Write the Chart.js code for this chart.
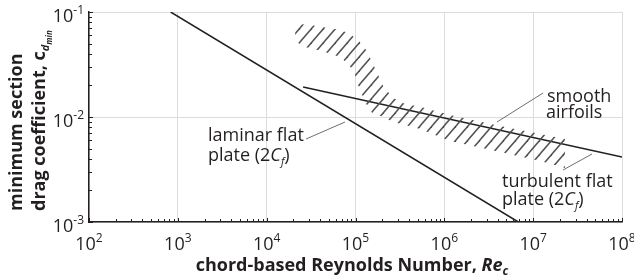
<!DOCTYPE html>
<html>
<head>
<meta charset="utf-8">
<script src="https://cdn.jsdelivr.net/npm/chart.js@4.4.0/dist/chart.umd.min.js"></script>
<style>
html, body { margin: 0; padding: 0; background: #fff; }
#grafico { display: block; }
</style>
</head>
<body>
<canvas id="grafico" width="634" height="279"></canvas>
<script>
// ticks dos eixos
const xTicks = [1e2, 1e3, 1e4, 1e5, 1e6, 1e7, 1e8]
const xExpoentes = ['2', '3', '4', '5', '6', '7', '8']
const yTicks = [1e-3, 1e-2, 1e-1]
const yExpoentes = ['-3', '-2', '-1']

// laminar flat plate (2Cf)
const laminarRe = [830, 6.8e6]
const laminarCd = [0.1, 0.001]

// turbulent flat plate (2Cf)
const turbulentoRe = [2.57e4, 1e8]
const turbulentoCd = [0.0193, 0.00416]

// faixa "smooth airfoils" (limite superior e inferior)
const faixaRe = [2.09e4, 2.71e4, 3.70e4, 4.91e4, 6.71e4, 8.26e4, 9.64e4, 1.07e5, 1.19e5, 1.32e5,
    1.54e5, 2.05e5, 2.65e5, 3.62e5, 5.34e5, 1.16e6, 4.25e6, 1.2e7, 2.29e7]
const faixaSup = [0.0769, 0.0760, 0.0736, 0.0705, 0.0674, 0.0631, 0.0578, 0.0541, 0.0485, 0.0435,
    0.0334, 0.0197, 0.0152, 0.0133, 0.0125, 0.01045, 0.0082, 0.00689, 0.00617]
const faixaInf = [0.0530, 0.0464, 0.0435, 0.0407, 0.0373, 0.0320, 0.0268, 0.0202, 0.0162, 0.0133,
    0.0109, 0.0100, 0.00896, 0.00839, 0.00769, 0.0059, 0.00465, 0.00381, 0.00327]

const COR = '#231f20'
const FONTE = '"Open Sans", "Noto Sans", sans-serif'

function pontos(xs, ys) {
    return xs.map((x, i) => ({ x: x, y: ys[i] }))
}

// hachura diagonal
function hachura() {
    const c = document.createElement('canvas')
    c.width = 12
    c.height = 14
    const g = c.getContext('2d')
    g.strokeStyle = '#505153'
    g.lineWidth = 1.5
    for (let k = -1; k <= 1; k++) {
        g.beginPath()
        g.moveTo(k * 12 - 1.2, 15.4)
        g.lineTo(k * 12 + 13.2, -1.4)
        g.stroke()
    }
    return g.createPattern(c, 'repeat')
}

function eMaior(v) {
    const l = Math.log10(v)
    return Math.abs(l - Math.round(l)) < 1e-6
}

function eInteiro(v) {
    const m = v / Math.pow(10, Math.floor(Math.log10(v) + 1e-9))
    return Math.abs(m - Math.round(m)) < 1e-6
}

function textoRico(ctx, partes, x, y) {
    let cx = x
    for (const p of partes) {
        ctx.font = p.fonte
        ctx.fillText(p.t, cx, y + (p.dy || 0))
        cx += ctx.measureText(p.t).width
    }
    return cx
}

function largura(ctx, partes) {
    let w = 0
    for (const p of partes) {
        ctx.font = p.fonte
        w += ctx.measureText(p.t).width
    }
    return w
}

function linha(ctx, x1, y1, x2, y2) {
    ctx.beginPath()
    ctx.moveTo(x1, y1)
    ctx.lineTo(x2, y2)
    ctx.stroke()
}

const reg = '18px ' + FONTE
const ita = 'italic 18px ' + FONTE
const sub = 'italic 11px ' + FONTE
const neg = 'bold 18px ' + FONTE
const negIta = 'italic bold 18px ' + FONTE

const textos = {
    id: 'textos',
    afterDraw(chart) {
        const ctx = chart.ctx
        const xs = chart.scales.x
        const ys = chart.scales.y
        const area = chart.chartArea
        ctx.save()
        ctx.fillStyle = COR
        ctx.strokeStyle = COR
        ctx.textBaseline = 'alphabetic'
        ctx.textAlign = 'left'

        // ticks para dentro
        ctx.lineWidth = 1
        xs.ticks.forEach(t => {
            if (!eInteiro(t.value)) return
            const px = Math.round(xs.getPixelForValue(t.value)) + 0.5
            const len = eMaior(t.value) ? 4 : 3
            linha(ctx, px, area.bottom, px, area.bottom - len)
        })
        ys.ticks.forEach(t => {
            if (!eInteiro(t.value)) return
            const py = Math.round(ys.getPixelForValue(t.value)) + 0.5
            const len = eMaior(t.value) ? 4 : 3
            linha(ctx, area.left, py, area.left + len, py)
        })

        // rotulos dos ticks
        xTicks.forEach((v, i) => {
            const partes = [{ t: '10', fonte: reg }, { t: xExpoentes[i], fonte: '12px ' + FONTE, dy: -8 }]
            const w = largura(ctx, partes)
            textoRico(ctx, partes, xs.getPixelForValue(v) - w / 2, 250)
        })
        yTicks.forEach((v, i) => {
            const partes = [{ t: '10', fonte: reg }, { t: yExpoentes[i], fonte: '12px ' + FONTE, dy: -8 }]
            const w = largura(ctx, partes)
            textoRico(ctx, partes, 84 - w, ys.getPixelForValue(v) + 9.5)
        })

        // titulo eixo x
        const tx = [
            { t: 'chord-based Reynolds Number, ', fonte: neg },
            { t: 'Re', fonte: negIta },
            { t: 'c', fonte: 'italic bold 12px ' + FONTE, dy: 4 }
        ]
        textoRico(ctx, tx, 352 - largura(ctx, tx) / 2, 271)

        // titulo eixo y
        ctx.save()
        ctx.translate(22, 211)
        ctx.rotate(-Math.PI / 2)
        textoRico(ctx, [{ t: 'minimum section', fonte: neg }], 0, 0)
        ctx.restore()
        ctx.save()
        ctx.translate(45, 211)
        ctx.rotate(-Math.PI / 2)
        textoRico(ctx, [
            { t: 'drag coefficient, ', fonte: neg },
            { t: 'c', fonte: neg },
            { t: 'd', fonte: 'italic bold 11px ' + FONTE, dy: 4 },
            { t: 'min', fonte: 'italic bold 8px ' + FONTE, dy: 7 }
        ], 0, 0)
        ctx.restore()

        // anotacoes
        textoRico(ctx, [{ t: 'laminar flat', fonte: reg }], 208, 141)
        textoRico(ctx, [
            { t: 'plate (2', fonte: reg }, { t: 'C', fonte: ita },
            { t: 'f', fonte: sub, dy: 4 }, { t: ')', fonte: reg }
        ], 208, 161)
        textoRico(ctx, [{ t: 'smooth', fonte: reg }], 547, 102)
        textoRico(ctx, [{ t: 'airfoils', fonte: reg }], 546, 118)
        textoRico(ctx, [{ t: 'turbulent flat', fonte: reg }], 502, 187)
        textoRico(ctx, [
            { t: 'plate (2', fonte: reg }, { t: 'C', fonte: ita },
            { t: 'f', fonte: sub, dy: 4 }, { t: ')', fonte: reg }
        ], 502, 205)

        // linhas de chamada
        ctx.strokeStyle = '#6d6e71'
        ctx.lineWidth = 1
        linha(ctx, 306, 139, 345, 122)
        linha(ctx, 543, 93, 497, 122)
        linha(ctx, 563, 170, 592, 154)
        ctx.restore()
    }
}

const dadosGrafico = {
    datasets: [{
        label: 'smooth airfoils (sup)',
        data: pontos(faixaRe, faixaSup),
        borderWidth: 0,
        borderColor: 'rgba(0,0,0,0)',
        backgroundColor: hachura(),
        pointRadius: 0,
        fill: '+1',
        tension: 0
    }, {
        label: 'smooth airfoils (inf)',
        data: pontos(faixaRe, faixaInf),
        borderWidth: 0,
        borderColor: 'rgba(0,0,0,0)',
        pointRadius: 0,
        fill: false
    }, {
        label: 'laminar flat plate',
        data: pontos(laminarRe, laminarCd),
        borderColor: COR,
        borderWidth: 1.5,
        pointRadius: 0,
        fill: false
    }, {
        label: 'turbulent flat plate',
        data: pontos(turbulentoRe, turbulentoCd),
        borderColor: COR,
        borderWidth: 1.5,
        pointRadius: 0,
        fill: false
    }]
}

const grafico = new Chart(document.getElementById('grafico'), {
    type: 'line',
    data: dadosGrafico,
    options: {
        responsive: false,
        devicePixelRatio: 1,
        animation: false,
        layout: { padding: { left: 89, right: 12, top: 12, bottom: 57 } },
        plugins: { legend: { display: false }, tooltip: { enabled: false } },
        scales: {
            x: {
                type: 'logarithmic',
                min: 1e2,
                max: 1e8,
                ticks: { display: false },
                grid: { color: c => eMaior(c.tick.value) ? '#dcdcdc' : 'rgba(0,0,0,0)', drawTicks: false },
                border: { display: true, color: COR, width: 1.5 }
            },
            y: {
                type: 'logarithmic',
                min: 1e-3,
                max: 1e-1,
                ticks: { display: false },
                grid: { color: c => eMaior(c.tick.value) ? '#dcdcdc' : 'rgba(0,0,0,0)', drawTicks: false },
                border: { display: true, color: COR, width: 1.5 }
            }
        }
    },
    plugins: [textos]
})
</script>
</body>
</html>
